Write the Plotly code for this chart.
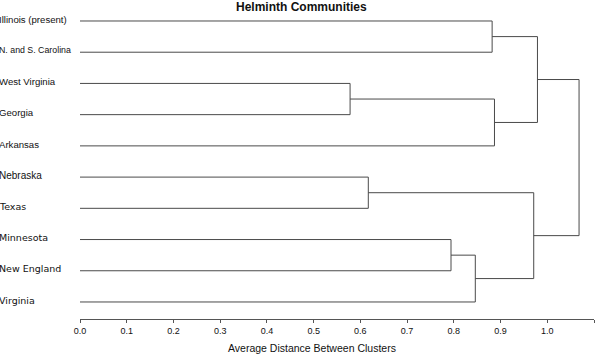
import plotly.graph_objects as go

# Leaves in display order (top to bottom)
leaves = ["Illinois (present)", "N. and S. Carolina", "West Virginia", "Georgia", "Arkansas",
          "Nebraska", "Texas", "Minnesota", "New England", "Virginia"]
# Merges: (left node, right node, height). Leaves are 0..9, merged clusters 10..18
merge_left = [0, 2, 11, 10, 5, 7, 15, 14, 13]
merge_right = [1, 3, 4, 12, 6, 8, 9, 16, 17]
merge_height = [0.882, 0.578, 0.887, 0.979, 0.617, 0.794, 0.846, 0.971, 1.068]
spaced_labels = {"Texas", "Minnesota", "New England", "Virginia"}
x_ticks = [0.0, 0.1, 0.2, 0.3, 0.4, 0.5, 0.6, 0.7, 0.8, 0.9, 1.0, 1.1]

n = len(leaves)
pos_y = {i: float(i) for i in range(n)}
pos_x = {i: 0.0 for i in range(n)}
xs, ys = [], []
for k, (a, b, h) in enumerate(zip(merge_left, merge_right, merge_height)):
    node = n + k
    xs += [pos_x[a], h, h, pos_x[b], None]
    ys += [pos_y[a], pos_y[a], pos_y[b], pos_y[b], None]
    pos_x[node] = h
    pos_y[node] = (pos_y[a] + pos_y[b]) / 2

fig = go.Figure()
fig.add_trace(go.Scatter(x=xs, y=ys, mode="lines",
                         line=dict(color="#4a4a4a", width=1),
                         hoverinfo="skip", showlegend=False))

L, R, T, B = 80, 6, 10, 35
W, H = 600, 354
pw = W - L - R

annotations = []
for i, name in enumerate(leaves):
    if name in spaced_labels:
        fam, size = "DejaVu Sans", 9.5
    elif name == "Nebraska":
        fam, size = "Liberation Sans, Arial", 10
    elif name == "N. and S. Carolina":
        fam, size = "Liberation Sans, Arial", 8.8
    else:
        fam, size = "Liberation Sans, Arial", 9.6
    annotations.append(dict(x=(-L - 3) / pw, xref="paper", y=i - 0.06, yref="y",
                            text=name, showarrow=False, xanchor="left", yanchor="middle",
                            font=dict(family=fam, size=size, color="#111")))
annotations.append(dict(x=(312 - L) / pw, xref="paper", y=-(348 - (H - B)) / (H - T - B), yref="paper",
                        text="Average Distance Between Clusters", showarrow=False,
                        xanchor="center", yanchor="middle",
                        font=dict(family="Liberation Sans, Arial", size=10.5, color="#111")))
annotations.append(dict(x=(301 - L) / pw, xref="paper", y=1 + (T - 7) / (H - T - B), yref="paper",
                        text="<b>Helminth Communities</b>", showarrow=False,
                        xanchor="center", yanchor="middle",
                        font=dict(family="Liberation Sans, Arial", size=12, color="#111")))

fig.update_layout(
    width=W, height=H,
    margin=dict(l=L, r=R, t=T, b=B),
    paper_bgcolor="white", plot_bgcolor="white",
    xaxis=dict(range=[0, 1.1], tickvals=x_ticks, ticktext=[f"{v:.1f}" for v in x_ticks],
               showgrid=False, zeroline=False, showline=True, linecolor="#555", linewidth=1,
               ticks="outside", ticklen=3, tickcolor="#555",
               tickfont=dict(family="Liberation Sans, Arial", size=9, color="#111")),
    yaxis=dict(range=[9.545, -0.352], showgrid=False, zeroline=False, showline=False,
               showticklabels=False, ticks=""),
    annotations=annotations,
)
fig.write_html("out.html")
